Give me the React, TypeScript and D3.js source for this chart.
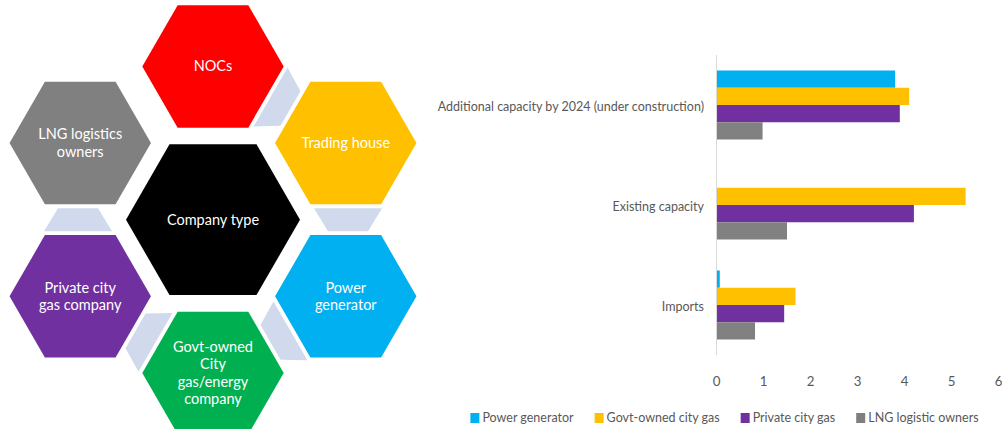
import React, { useEffect, useRef } from "react";
import * as d3 from "d3";

// ---- Bar chart data ----
const categories = [
  "Additional capacity by 2024 (under construction)",
  "Existing capacity",
  "Imports",
];
const seriesNames = ["Power generator", "Govt-owned city gas", "Private city gas", "LNG logistic owners"];
const seriesColors = ["#00B0F0", "#FFC000", "#7030A0", "#7F7F7F"];
const powerGenerator = [3.8, 0, 0.07];
const govtOwnedCityGas = [4.1, 5.3, 1.68];
const privateCityGas = [3.9, 4.2, 1.44];
const lngLogisticOwners = [0.98, 1.5, 0.82];
const xTicks = [0, 1, 2, 3, 4, 5, 6];

// ---- Hexagon diagram data ----
const centerLabel = ["Company type"];
const hexLabels = [
  ["NOCs"],
  ["Trading house"],
  ["Power", "generator"],
  ["Govt-owned", "City", "gas/energy", "company"],
  ["Private city", "gas company"],
  ["LNG logistics", "owners"],
];
const hexColors = ["#FF0000", "#FFC000", "#00B0F0", "#00B050", "#7030A0", "#808080"];
const hexAngles = [-90, -30, 30, 90, 150, 210];
const connectorAngles = [-60, 0, 60, 120, 180];

const FONT = "Lato, 'Open Sans', sans-serif";
const AXIS_FS = 12.5;

export default function App() {
  const ref = useRef<SVGSVGElement | null>(null);

  useEffect(() => {
    const svg = d3.select(ref.current);
    svg.selectAll("*").remove();

    // ---------- Hexagon diagram ----------
    const C = { x: 213, y: 219.7 };
    const ringDist = 153.3;
    const outerR = 70.7;
    const innerR = 87;
    const hexPts = (cx: number, cy: number, R: number) =>
      d3.range(6).map((i) => {
        const a = (Math.PI / 3) * i;
        return [cx + R * Math.cos(a), cy + R * Math.sin(a)] as [number, number];
      });
    const line = d3.line<[number, number]>().curve(d3.curveLinearClosed);

    const diag = svg.append("g");

    // connectors
    const connDist = 135;
    const longHalf = 34;
    const shortHalf = 20;
    const h = 23;
    connectorAngles.forEach((deg) => {
      const th = (deg * Math.PI) / 180;
      const r = [Math.cos(th), Math.sin(th)];
      const t = [-Math.sin(th), Math.cos(th)];
      const c = [C.x + connDist * r[0], C.y + connDist * r[1]];
      const p = (rr: number, tt: number) => [c[0] + r[0] * rr + t[0] * tt, c[1] + r[1] * rr + t[1] * tt] as [number, number];
      const pts = [p(-longHalf, -h / 2), p(longHalf, -h / 2), p(shortHalf, h / 2), p(-shortHalf, h / 2)];
      diag.append("path").attr("d", line(pts)).attr("fill", "#D0DAEC");
    });

    const drawLabel = (cx: number, cy: number, lines: string[]) => {
      const lh = 17.6;
      const t = diag
        .append("text")
        .attr("fill", "#fff")
        .attr("font-family", FONT)
        .attr("font-size", 14.5)
        .attr("text-anchor", "middle");
      lines.forEach((l, i) => {
        t.append("tspan")
          .attr("x", cx)
          .attr("y", cy + (i - (lines.length - 1) / 2) * lh)
          .attr("dy", "0.35em")
          .text(l);
      });
    };

    hexAngles.forEach((deg, i) => {
      const th = (deg * Math.PI) / 180;
      const cx = C.x + ringDist * Math.cos(th);
      const cy = C.y + ringDist * Math.sin(th);
      diag.append("path").attr("d", line(hexPts(cx, cy, outerR))).attr("fill", hexColors[i]);
      drawLabel(cx, cy, hexLabels[i]);
    });
    diag.append("path").attr("d", line(hexPts(C.x, C.y, innerR))).attr("fill", "#000");
    drawLabel(C.x, C.y, centerLabel);

    // ---------- Bar chart ----------
    const defs = svg.append("defs");
    const pat = defs
      .append("pattern")
      .attr("id", "grayTex")
      .attr("width", 2)
      .attr("height", 2)
      .attr("patternUnits", "userSpaceOnUse");
    pat.append("rect").attr("width", 2).attr("height", 2).attr("fill", "#7F7F7F");
    pat.append("rect").attr("x", 0).attr("y", 0).attr("width", 1).attr("height", 1).attr("fill", "#848484");

    const x = d3.scaleLinear().domain([0, 6]).range([716.5, 998.5]);
    const y = d3.scaleBand<string>().domain(categories).range([55, 355]).paddingInner(0.31).paddingOuter(0.155);
    const ys = d3.scaleBand<string>().domain(seriesNames).range([0, y.bandwidth()]);
    const seriesValues = [powerGenerator, govtOwnedCityGas, privateCityGas, lngLogisticOwners];

    const chart = svg.append("g");
    categories.forEach((cat, ci) => {
      const g = chart.append("g").attr("transform", `translate(0,${y(cat)})`);
      seriesNames.forEach((s, si) => {
        const v = seriesValues[si][ci];
        if (v <= 0) return;
        g.append("rect")
          .attr("x", x(0))
          .attr("y", ys(s)!)
          .attr("width", x(v) - x(0))
          .attr("height", ys.bandwidth())
          .attr("fill", si === 3 ? "url(#grayTex)" : seriesColors[si]);
      });
      chart
        .append("text")
        .attr("x", 704)
        .attr("y", y(cat)! + y.bandwidth() / 2 + 1.5)
        .attr("dy", "0.35em")
        .attr("text-anchor", "end")
        .attr("fill", "#595959")
        .attr("font-family", FONT)
        .attr("font-size", AXIS_FS)
        .text(cat);
    });

    // axis line
    chart
      .append("line")
      .attr("x1", x(0))
      .attr("x2", x(0))
      .attr("y1", 55)
      .attr("y2", 355)
      .attr("stroke", "#D9D9D9")
      .attr("stroke-width", 1);

    // x tick labels
    chart
      .selectAll("text.tick")
      .data(xTicks)
      .enter()
      .append("text")
      .attr("class", "tick")
      .attr("x", (d) => x(d))
      .attr("y", 381)
      .attr("dy", "0.35em")
      .attr("text-anchor", "middle")
      .attr("fill", "#595959")
      .attr("font-family", FONT)
      .attr("font-size", 13.3)
      .text((d) => String(d));

    // legend
    const lg = svg.append("g");
    const sq = 9;
    const gapSq = 3;
    const gapItem = 21;
    const items = seriesNames.map((name, i) => {
      const item = lg.append("g");
      item.append("rect").attr("x", 0).attr("y", -5).attr("width", sq).attr("height", 10).attr("fill", seriesColors[i]);
      const t = item
        .append("text")
        .attr("x", sq + gapSq)
        .attr("y", 0)
        .attr("dy", "0.35em")
        .attr("fill", "#595959")
        .attr("font-family", FONT)
        .attr("font-size", AXIS_FS)
        .text(name);
      const w = (t.node() as SVGTextElement).getComputedTextLength();
      return { item, w: sq + gapSq + w };
    });
    const total = items.reduce((a, b) => a + b.w, 0) + gapItem * (items.length - 1);
    let cx = 724.5 - total / 2;
    items.forEach(({ item, w }) => {
      item.attr("transform", `translate(${cx},418)`);
      cx += w + gapItem;
    });
  }, []);

  return (
    <svg
      ref={ref}
      width={1002}
      height={429}
      style={{ position: "absolute", left: 0, top: 0, background: "#fff", display: "block" }}
    />
  );
}
